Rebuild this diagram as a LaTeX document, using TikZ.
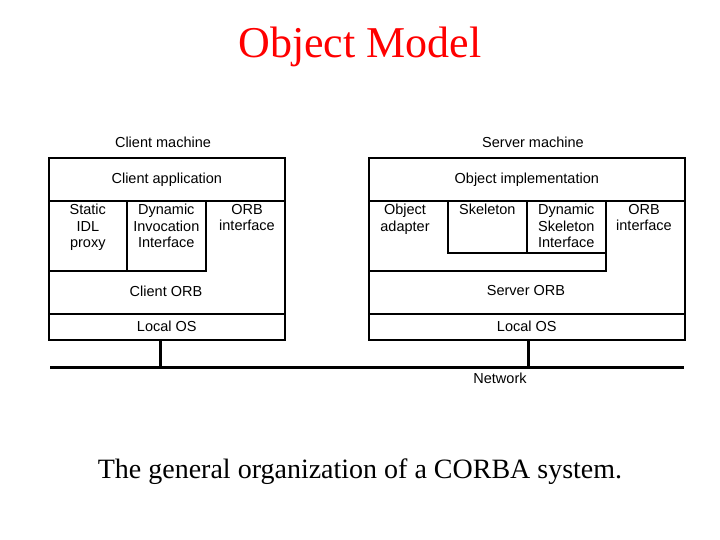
\documentclass[tikz,border=0pt]{standalone}
\usepackage{fontspec}
\setmainfont{Liberation Serif}
\setsansfont{Liberation Sans}

\begin{document}
\begin{tikzpicture}[x=1pt, y=-1pt,
    lbl/.style={font=\sffamily\fontsize{14.5}{16.5}\selectfont, align=center, inner sep=0pt},
    part/.style={draw, line width=1.6pt, anchor=north west, inner sep=0pt, lbl},
    wire/.style={line width=3pt}]
  \useasboundingbox (0,0) rectangle (720,540);

  \node[text=red, font=\fontsize{44}{48}\selectfont, inner sep=0pt] (title) at (360,47) {Object Model};

  % client side
  \node[lbl] (clientm) at (163,142) {Client machine};
  \node[part, minimum width=236, minimum height=182] (client) at (48,157) {};
  \node[part, minimum width=236, minimum height=43] (capp) at (48,157) {Client application};
  \node[part, minimum width=78, minimum height=70] (static) at (48,200) {};
  \node[part, minimum width=79, minimum height=70] (dii) at (126,200) {};
  \node[lbl, anchor=north] (tstatic) at ([yshift=-4]static.north) {Static\\IDL\\proxy};
  \node[lbl, anchor=north] (tdii) at ([yshift=-4]dii.north) {Dynamic\\Invocation\\Interface};
  \node[lbl, anchor=north] (corbi) at (247,204) {ORB\\interface};
  \node[lbl] (corb) at (166,291) {Client ORB};
  \node[part, minimum width=236, minimum height=26] (cos) at (48,313) {Local OS};

  % server side
  \node[lbl] (serverm) at (533,142) {Server machine};
  \node[part, minimum width=316, minimum height=182] (server) at (368,157) {};
  \node[part, minimum width=316, minimum height=43] (oimpl) at (368,157) {Object implementation};
  \node[part, minimum width=237, minimum height=70] (oadapt) at (368,200) {};
  \node[part, minimum width=79, minimum height=52] (skel) at (447,200) {};
  \node[part, minimum width=79, minimum height=52] (dsi) at (526,200) {};
  \node[lbl, anchor=north] (toadapt) at (405,204) {Object\\adapter};
  \node[lbl, anchor=north] (tskel) at ([yshift=-4]skel.north) {Skeleton};
  \node[lbl, anchor=north] (tdsi) at ([yshift=-4]dsi.north) {Dynamic\\Skeleton\\Interface};
  \node[lbl, anchor=north] (sorbi) at (644,204) {ORB\\interface};
  \node[lbl] (sorb) at (526,291) {Server ORB};
  \node[part, minimum width=316, minimum height=26] (sos) at (368,313) {Local OS};

  % network
  \coordinate (netl) at (50,367);
  \coordinate (netr) at (684,367);
  \coordinate (cnet) at (160,367);
  \coordinate (snet) at (528,367);
  \draw[wire] (netl) -- (netr);
  \draw[wire] (cos.south -| cnet) -- (cnet);
  \draw[wire] (sos.south -| snet) -- (snet);
  \node[lbl] (net) at (500,378) {Network};

  \node[font=\fontsize{28}{30}\selectfont, inner sep=0pt] (caption) at (360,472) {The general organization of a CORBA system.};
\end{tikzpicture}
\end{document}
